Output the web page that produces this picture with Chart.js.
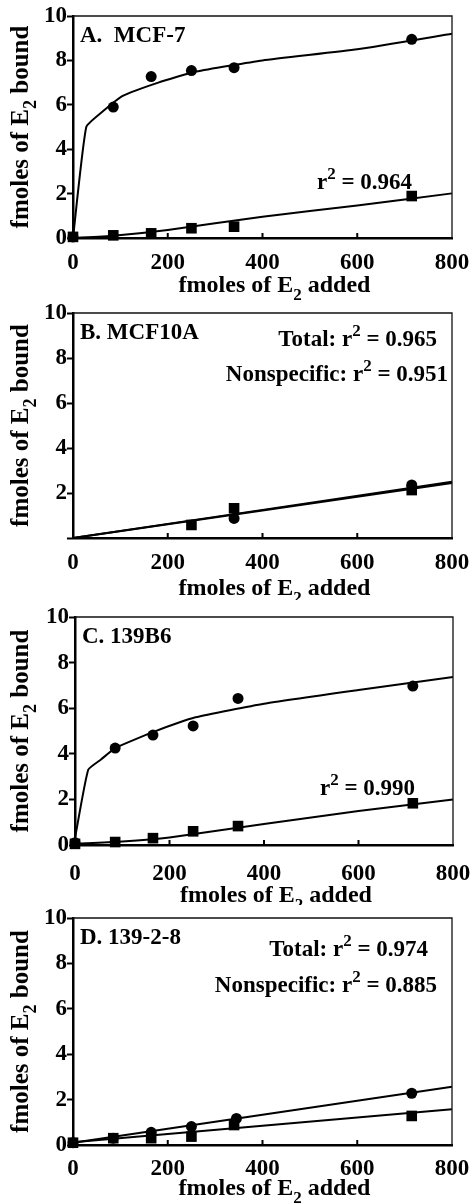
<!DOCTYPE html>
<html>
<head>
<meta charset="utf-8">
<script src="https://cdn.jsdelivr.net/npm/chart.js@4/dist/chart.umd.min.js"></script>
<style>
  html, body { margin: 0; padding: 0; background: #fff; overflow: hidden; }
  #page { position: relative; width: 473px; height: 1204px; }
  canvas { position: absolute; left: 0; }
</style>
</head>
<body>
<div id="page">
  <canvas id="chartA"></canvas>
  <canvas id="chartB"></canvas>
  <canvas id="chartC"></canvas>
  <canvas id="chartD"></canvas>
</div>
<script>
const FAMILY = '"Liberation Serif", "Times New Roman", serif';

// axis ticks
const xTicks = [0, 200, 400, 600, 800];
const yTicks = [0, 2, 4, 6, 8, 10];

// A. MCF-7
const totalXA = [0, 85, 165, 250, 340, 715];
const totalYA = [0.05, 5.9, 7.27, 7.54, 7.67, 8.95];
const nonspecXA = [0, 85, 165, 250, 340, 715];
const nonspecYA = [0.05, 0.12, 0.21, 0.44, 0.51, 1.89];
const fitTotalXA = [0, 28, 60, 105, 180, 260, 400, 600, 800];
const fitTotalYA = [0, 5.0, 5.65, 6.4, 7.0, 7.5, 8.0, 8.5, 9.2];
const fitNonspecXA = [0, 85, 200, 400, 600, 800];
const fitNonspecYA = [0, 0.1, 0.36, 0.96, 1.46, 2.01];

// B. MCF10A
const totalXB = [340, 715];
const totalYB = [0.87, 2.36];
const nonspecXB = [250, 340, 715];
const nonspecYB = [0.58, 1.32, 2.13];
const fitTotalXB = [0, 800];
const fitTotalYB = [0, 2.5];
const fitNonspecXB = [0, 800];
const fitNonspecYB = [0, 2.44];

// C. 139B6
const totalXC = [0, 85, 165, 250, 345, 715];
const totalYC = [0.1, 4.25, 4.82, 5.22, 6.43, 6.97];
const nonspecXC = [0, 85, 165, 250, 345, 715];
const nonspecYC = [0.05, 0.13, 0.3, 0.6, 0.83, 1.83];
const fitTotalXC = [0, 28, 55, 85, 165, 255, 400, 600, 800];
const fitTotalYC = [0.3, 3.3, 3.75, 4.25, 4.95, 5.6, 6.2, 6.8, 7.37];
const fitNonspecXC = [0, 100, 200, 400, 600, 800];
const fitNonspecYC = [0.05, 0.15, 0.33, 0.92, 1.49, 2.0];

// D. 139-2-8
const totalXD = [0, 85, 165, 250, 345, 715];
const totalYD = [0.1, 0.3, 0.56, 0.81, 1.17, 2.28];
const nonspecXD = [0, 85, 165, 250, 340, 715];
const nonspecYD = [0.1, 0.3, 0.3, 0.37, 0.88, 1.28];
const fitTotalXD = [0, 800];
const fitTotalYD = [0.1, 2.57];
const fitNonspecXD = [0, 800];
const fitNonspecYD = [0.12, 1.57];

const pts = (xs, ys) => xs.map((x, i) => ({ x: x, y: ys[i] }));

// draws text made of parts: [text, 0 normal | 1 superscript | -1 subscript]
function drawRich(ctx, parts, x, y, align, size) {
  const big = 'bold ' + size + 'px ' + FAMILY;
  const small = 'bold ' + Math.round(size * 0.72) + 'px ' + FAMILY;
  let w = 0;
  parts.forEach(p => { ctx.font = p[1] ? small : big; w += ctx.measureText(p[0]).width; });
  let cx = align === 'center' ? x - w / 2 : align === 'right' ? x - w : x;
  ctx.textAlign = 'left';
  ctx.textBaseline = 'alphabetic';
  parts.forEach(p => {
    ctx.font = p[1] ? small : big;
    const dy = p[1] === 1 ? -size * 0.42 : p[1] === -1 ? size * 0.32 : 0;
    ctx.fillText(p[0], cx, y + dy);
    cx += ctx.measureText(p[0]).width;
  });
}

const decoPlugin = {
  id: 'deco',
  afterDraw(chart, args, o) {
    const ctx = chart.ctx, a = chart.chartArea, xs = chart.scales.x;
    ctx.save();
    ctx.strokeStyle = '#111';
    ctx.lineWidth = 1.3;
    ctx.beginPath();
    ctx.moveTo(a.left, a.top);
    ctx.lineTo(a.right, a.top);
    ctx.lineTo(a.right, a.bottom);
    ctx.stroke();
    // short inward ticks on the x axis
    ctx.lineWidth = 2;
    ctx.strokeStyle = '#000';
    ctx.beginPath();
    xTicks.forEach(v => {
      if (v === 0 || v === 800) return;
      const px = xs.getPixelForValue(v);
      ctx.moveTo(px, a.bottom);
      ctx.lineTo(px, a.bottom - 5);
    });
    ctx.stroke();
    ctx.fillStyle = '#000';
    // axis titles
    drawRich(ctx, [['fmoles of E', 0], ['2', -1], [' added', 0]],
      (a.left + a.right) / 2 + 12, a.bottom + o.xTitleGap, 'center', 24);
    ctx.save();
    ctx.translate(28, (a.top + a.bottom) / 2);
    ctx.rotate(-Math.PI / 2);
    drawRich(ctx, [['fmoles of E', 0], ['2', -1], [' bound', 0]], 0, 0, 'center', 25);
    ctx.restore();
    // panel label and r2 notes
    drawRich(ctx, [[o.label, 0]], a.left + 7, a.top + 26, 'left', 23);
    o.notes.forEach(n => {
      const parts = [];
      if (n.prefix) parts.push([n.prefix + ' r', 0]); else parts.push(['r', 0]);
      parts.push(['2', 1]);
      parts.push([' = ' + n.value, 0]);
      const px = n.align === 'right' ? a.right - n.dx : a.left + n.dx;
      const py = n.fromTop ? a.top + n.dy : a.bottom - n.dy;
      drawRich(ctx, parts, px, py, n.align, 23);
    });
    ctx.restore();
  }
};

function makeChart(id, p) {
  const cv = document.getElementById(id);
  cv.width = 473;
  cv.height = p.height;
  cv.style.top = p.top + 'px';
  const tickFont = { family: FAMILY, size: 23, weight: 'bold' };
  const scatter = (data, style, r) => ({
    data: data, showLine: false, pointStyle: style, pointRadius: r,
    pointBackgroundColor: '#000', pointBorderColor: '#000', pointBorderWidth: 0, clip: false
  });
  const fit = (data) => ({
    data: data, showLine: true, pointRadius: 0, borderColor: '#000', borderWidth: 2,
    tension: 0.15, clip: false
  });
  return new Chart(cv, {
    type: 'scatter',
    data: {
      datasets: [
        fit(p.fitTotal),
        fit(p.fitNonspec),
        scatter(p.total, 'circle', 5.5),
        scatter(p.nonspec, 'rect', 7.5)
      ]
    },
    options: {
      responsive: false,
      animation: false,
      layout: { padding: { top: p.plotTop, right: 473 - p.plotRight, left: 0, bottom: 0 } },
      plugins: {
        legend: { display: false },
        tooltip: { enabled: false },
        deco: { label: p.label, notes: p.notes, xTitleGap: p.xTitleGap }
      },
      scales: {
        x: {
          type: 'linear', min: 0, max: 800,
          afterBuildTicks: s => { s.ticks = xTicks.map(v => ({ value: v })); },
          afterFit: s => { s.height = p.height - p.plotBottom; s.paddingLeft = 0; s.paddingRight = 0; },
          grid: { display: true, drawOnChartArea: false, drawTicks: false },
          border: { display: true, color: '#000', width: 2.5 },
          ticks: { color: '#000', font: tickFont, padding: p.xPad, maxRotation: 0, autoSkip: false }
        },
        y: {
          type: 'linear', min: 0, max: 10,
          afterBuildTicks: s => { s.ticks = yTicks.map(v => ({ value: v })); },
          afterFit: s => { s.width = p.plotLeft; s.paddingTop = 0; s.paddingBottom = 0; },
          grid: { display: true, drawOnChartArea: false, drawTicks: true, tickLength: 6, tickWidth: 2, color: '#000' },
          border: { display: true, color: '#000', width: 2.5 },
          ticks: {
            color: '#000', font: tickFont, padding: 0, autoSkip: false,
            callback: v => (p.hideZero && v === 0) ? '' : String(v)
          }
        }
      }
    },
    plugins: [decoPlugin]
  });
}

makeChart('chartA', {
  top: 0, height: 300, plotTop: 16, plotBottom: 238, plotLeft: 73, plotRight: 452, xTitleGap: 54, xPad: 11,
  label: 'A.  MCF-7',
  total: pts(totalXA, totalYA), nonspec: pts(nonspecXA, nonspecYA),
  fitTotal: pts(fitTotalXA, fitTotalYA), fitNonspec: pts(fitNonspecXA, fitNonspecYA),
  notes: [{ value: '0.964', align: 'left', dx: 244, dy: 49 }]
});

makeChart('chartB', {
  top: 290, height: 310, plotTop: 23, plotBottom: 248, plotLeft: 73, plotRight: 452, xTitleGap: 57, xPad: 11,
  label: 'B. MCF10A', hideZero: true,
  total: pts(totalXB, totalYB), nonspec: pts(nonspecXB, nonspecYB),
  fitTotal: pts(fitTotalXB, fitTotalYB), fitNonspec: pts(fitNonspecXB, fitNonspecYB),
  notes: [
    { prefix: 'Total:', value: '0.965', align: 'right', dx: 15, dy: 33, fromTop: true },
    { prefix: 'Nonspecific:', value: '0.951', align: 'right', dx: 4, dy: 68, fromTop: true }
  ]
});

makeChart('chartC', {
  top: 590, height: 315, plotTop: 27, plotBottom: 255, plotLeft: 75, plotRight: 453, xTitleGap: 57, xPad: 15,
  label: 'C. 139B6',
  total: pts(totalXC, totalYC), nonspec: pts(nonspecXC, nonspecYC),
  fitTotal: pts(fitTotalXC, fitTotalYC), fitNonspec: pts(fitNonspecXC, fitNonspecYC),
  notes: [{ value: '0.990', align: 'left', dx: 245, dy: 50 }]
});

makeChart('chartD', {
  top: 890, height: 314, plotTop: 28, plotBottom: 255, plotLeft: 73, plotRight: 452, xTitleGap: 50, xPad: 10,
  label: 'D. 139-2-8',
  total: pts(totalXD, totalYD), nonspec: pts(nonspecXD, nonspecYD),
  fitTotal: pts(fitTotalXD, fitTotalYD), fitNonspec: pts(fitNonspecXD, fitNonspecYD),
  notes: [
    { prefix: 'Total:', value: '0.974', align: 'right', dx: 24, dy: 38, fromTop: true },
    { prefix: 'Nonspecific:', value: '0.885', align: 'right', dx: 15, dy: 74, fromTop: true }
  ]
});
</script>
</body>
</html>
